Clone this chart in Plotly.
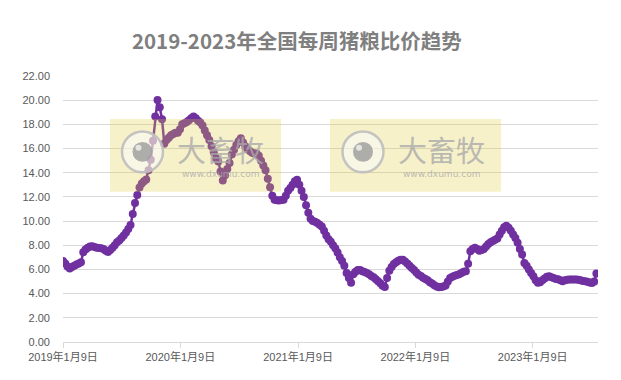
import plotly.graph_objects as go
import pandas as pd

# Weekly pig-grain price ratio, starting 2019-01-09 (one value per week)
start_date = "2019-01-09"
ratio = [
    6.70, 6.50, 6.25, 6.07, 6.20, 6.30, 6.40, 6.50, 6.60, 7.42,
    7.65, 7.80, 7.90, 7.92, 7.85, 7.80, 7.78, 7.75, 7.70, 7.55,
    7.45, 7.60, 7.80, 8.00, 8.24, 8.40, 8.60, 8.80, 9.05, 9.35,
    9.68, 10.59, 11.49, 12.15, 12.78, 13.10, 13.30, 13.45, 14.20, 15.07,
    16.64, 18.65, 20.02, 19.42, 18.43, 16.40, 16.70, 16.90, 17.10, 17.20,
    17.30, 17.30, 17.60, 18.00, 18.10, 18.20, 18.35, 18.50, 18.65, 18.50,
    18.30, 18.15, 17.90, 17.50, 17.10, 16.70, 16.20, 15.70, 15.20, 14.93,
    14.10, 13.36, 13.80, 14.30, 14.80, 15.50, 15.90, 16.30, 16.60, 16.86,
    16.50, 16.20, 15.95, 15.80, 15.65, 15.60, 15.60, 15.40, 15.00, 14.60,
    14.20, 13.50, 12.80, 12.10, 11.77, 11.72, 11.71, 11.75, 11.77, 12.10,
    12.50, 12.73, 13.00, 13.30, 13.42, 13.00, 12.50, 12.00, 11.30, 10.70,
    10.20, 10.00, 9.95, 9.85, 9.70, 9.56, 9.20, 8.80, 8.50, 8.30,
    8.00, 7.75, 7.40, 7.00, 6.70, 6.30, 5.70, 5.30, 4.90, 5.60,
    5.80, 5.95, 5.95, 5.85, 5.78, 5.70, 5.60, 5.45, 5.35, 5.20,
    5.02, 4.85, 4.65, 4.55, 5.30, 5.90, 6.20, 6.45, 6.60, 6.72,
    6.80, 6.80, 6.65, 6.50, 6.30, 6.13, 5.95, 5.75, 5.57, 5.45,
    5.32, 5.22, 5.10, 4.95, 4.83, 4.70, 4.58, 4.53, 4.55, 4.60,
    4.67, 5.00, 5.30, 5.40, 5.48, 5.55, 5.60, 5.70, 5.80, 5.85,
    6.48, 7.50, 7.70, 7.80, 7.70, 7.55, 7.60, 7.70, 7.90, 8.10,
    8.25, 8.35, 8.45, 8.55, 8.90, 9.20, 9.50, 9.62, 9.45, 9.20,
    8.90, 8.60, 8.20, 7.70, 7.23, 6.54, 6.30, 5.99, 5.70, 5.43,
    5.10, 4.90, 4.95, 5.10, 5.25, 5.40, 5.43, 5.35, 5.30, 5.22,
    5.20, 5.10, 5.02, 5.10, 5.15, 5.16, 5.16, 5.16, 5.16, 5.15,
    5.10, 5.05, 5.02, 4.98, 4.92, 4.89, 5.00, 5.66,
]
dates = pd.date_range(start_date, periods=len(ratio), freq="7D")

tick_dates = ["2019-01-09", "2020-01-09", "2021-01-09", "2022-01-09", "2023-01-09"]
tick_labels = ["2019年1月9日", "2020年1月9日", "2021年1月9日", "2022年1月9日", "2023年1月9日"]
y_ticks = [0, 2, 4, 6, 8, 10, 12, 14, 16, 18, 20, 22]

title_text = "2019-2023年全国每周猪粮比价趋势"
wm_big = "大畜牧"
wm_small = "www.dxumu.com"

LINE = "#7030a0"
GRID = "#d9d9d9"
FONT = "Liberation Sans, Noto Sans CJK SC, sans-serif"

fig = go.Figure()
fig.add_trace(go.Scatter(
    x=dates, y=ratio, mode="lines+markers",
    line=dict(color=LINE, width=2.5),
    marker=dict(color=LINE, size=8),
    hoverinfo="x+y", showlegend=False,
))

shapes = []
annotations = []
W, H = 621, 380
ml, mr, mt, mb = 63, 23, 76, 37.5
pw, ph = W - ml - mr, H - mt - mb

def px(x):
    return (x - ml) / pw

def py(y):
    return (H - mb - y) / ph

for (x0, x1, cx) in [(110, 281, 142.5), (330, 501, 363)]:
    shapes.append(dict(type="rect", xref="paper", yref="paper",
                       x0=px(x0), x1=px(x1), y0=py(192), y1=py(119),
                       fillcolor="#e2cc3a", opacity=0.27, line=dict(width=0),
                       layer="above"))
    r = 20.5
    cy = 152
    shapes.append(dict(type="circle", xref="paper", yref="paper",
                       x0=px(cx - r), x1=px(cx + r), y0=py(cy + r), y1=py(cy - r),
                       fillcolor="rgba(250,250,250,0.55)",
                       line=dict(color="rgba(190,190,190,0.9)", width=2.5),
                       layer="above"))
    r2 = 10
    shapes.append(dict(type="circle", xref="paper", yref="paper",
                       x0=px(cx - r2), x1=px(cx + r2), y0=py(cy + r2), y1=py(cy - r2),
                       fillcolor="rgba(160,160,160,0.85)", line=dict(width=0),
                       layer="above"))
    r3 = 3
    hx, hy = cx - 4, cy - 4
    shapes.append(dict(type="circle", xref="paper", yref="paper",
                       x0=px(hx - r3), x1=px(hx + r3), y0=py(hy + r3), y1=py(hy - r3),
                       fillcolor="rgba(235,235,235,0.9)", line=dict(width=0),
                       layer="above"))
    tx = cx + 78
    annotations.append(dict(xref="paper", yref="paper", x=px(tx), y=py(149),
                            text=wm_big, showarrow=False,
                            font=dict(family="Noto Sans CJK SC", size=29,
                                      color="rgba(170,170,170,0.8)"),
                            xanchor="center", yanchor="middle"))
    annotations.append(dict(xref="paper", yref="paper", x=px(tx), y=py(174),
                            text=wm_small, showarrow=False,
                            font=dict(family="DejaVu Sans", size=9,
                                      color="rgba(170,170,170,0.8)"),
                            xanchor="center", yanchor="middle"))

fig.update_layout(
    width=W, height=H,
    margin=dict(l=ml, r=mr, t=mt, b=mb),
    paper_bgcolor="white", plot_bgcolor="white",
    title=dict(text="<b>" + title_text + "</b>", x=0.478, xanchor="center",
               y=1 - 42 / H, yanchor="middle",
               font=dict(family="Noto Sans CJK SC", size=20.5, color="#7f7f7f")),
    xaxis=dict(type="date", range=[dates[0], dates[-1] + pd.Timedelta(days=5)],
               tickvals=tick_dates, ticktext=tick_labels,
               showgrid=False, zeroline=False,
               showline=True, linecolor=GRID, linewidth=1,
               ticks="outside", ticklen=5, tickcolor=GRID,
               tickfont=dict(family=FONT, size=11, color="#595959")),
    yaxis=dict(range=[0, 22], tickvals=y_ticks, tickformat=".2f",
               showgrid=True, gridcolor=GRID, gridwidth=1, zeroline=False,
               showline=False, ticks="", ticklabelstandoff=12,
               tickfont=dict(family=FONT, size=11, color="#595959")),
    shapes=shapes, annotations=annotations,
)

fig.write_html("out.html", config={"displayModeBar": False},
               post_script="document.body.style.margin='0';")
